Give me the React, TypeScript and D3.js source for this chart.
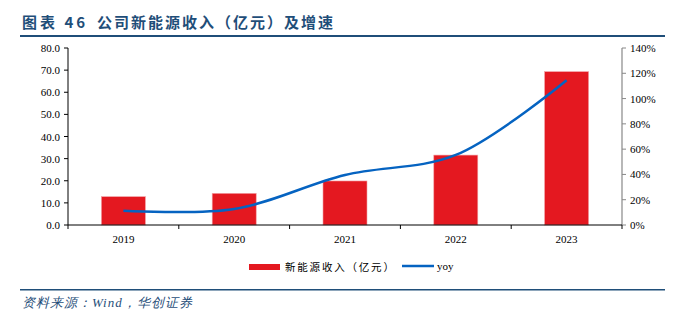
import React from "react";
import * as d3 from "d3";

const categories = ["2019", "2020", "2021", "2022", "2023"];
const revenue = [12.8, 14.3, 19.9, 31.6, 69.3];
const yoy = [11.3, 12.7, 39.6, 55.4, 114.5];
const leftTicks = [0, 10, 20, 30, 40, 50, 60, 70, 80];
const rightTicks = [0, 20, 40, 60, 80, 100, 120, 140];
const titleLabel = "图表 46";
const title = "公司新能源收入（亿元）及增速";
const source = "资料来源：Wind，华创证券";
const legendBar = "新能源收入（亿元）";
const legendLine = "yoy";

export default function App() {
  const W = 681, H = 322;
  const left = 68, right = 622, top = 48, bottom = 225;
  const xb = d3.scaleBand().domain(categories).range([left, right]);
  const yL = d3.scaleLinear().domain([0, 80]).range([bottom, top]);
  const yR = d3.scaleLinear().domain([0, 140]).range([bottom, top]);
  const line = d3
    .line<number>()
    .x((_, i) => (xb(categories[i]) as number) + xb.bandwidth() / 2)
    .y((d) => yR(d))
    .curve(d3.curveCatmullRom.alpha(0.5));
  const serif = "'Liberation Serif', 'Times New Roman', serif";
  const cjk = "'Noto Sans CJK SC', sans-serif";
  const boundaries = [...categories.map((c) => xb(c) as number), right];
  return (
    <svg width={W} height={H} style={{ position: "absolute", left: 0, top: 0 }}>
      <rect width={W} height={H} fill="#fff" />
      <text x={22} y={28} fontFamily={cjk} fontWeight="bold" fontSize={15} fill="#1F4E79" letterSpacing={3} style={{ whiteSpace: "pre" }}>
        {titleLabel}
      </text>
      <text x={97} y={28} fontFamily={cjk} fontWeight="bold" fontSize={15} fill="#1F4E79" letterSpacing={2}>
        {title}
      </text>
      <rect x={20} y={35} width={645} height={2} fill="#1F4E79" />
      {categories.map((c, i) => (
        <rect key={c} x={(xb(c) as number) + xb.bandwidth() / 2 - 22} y={yL(revenue[i])} width={44} height={bottom - yL(revenue[i])} fill="#E41820" stroke="#F2A0A4" strokeWidth={0.6} />
      ))}
      {/* left axis */}
      <line x1={left} x2={left} y1={top} y2={bottom} stroke="#000" />
      {leftTicks.map((t) => (
        <g key={t}>
          <line x1={left - 4} x2={left} y1={yL(t)} y2={yL(t)} stroke="#000" />
          <text x={left - 8} y={yL(t) + 4} textAnchor="end" fontFamily={serif} fontSize={11} fill="#000">
            {t.toFixed(1)}
          </text>
        </g>
      ))}
      {/* right axis */}
      <line x1={right} x2={right} y1={top} y2={bottom} stroke="#888" strokeWidth={1.2} />
      {rightTicks.map((t) => (
        <g key={t}>
          <line x1={right} x2={right + 4} y1={yR(t)} y2={yR(t)} stroke="#888" />
          <text x={right + 8} y={yR(t) + 4} textAnchor="start" fontFamily={serif} fontSize={11} fill="#000">
            {t}%
          </text>
        </g>
      ))}
      {/* x axis */}
      <line x1={left} x2={right} y1={bottom} y2={bottom} stroke="#000" />
      {boundaries.map((b, i) => (
        <line key={i} x1={b} x2={b} y1={bottom} y2={bottom + 4} stroke="#000" />
      ))}
      {categories.map((c) => (
        <text key={c} x={(xb(c) as number) + xb.bandwidth() / 2} y={243} textAnchor="middle" fontFamily={serif} fontSize={11} fill="#000">
          {c}
        </text>
      ))}
      <path d={line(yoy) || ""} fill="none" stroke="#0563C1" strokeWidth={2.5} />
      {/* legend */}
      <rect x={249} y={264} width={31} height={6} fill="#E41820" />
      <text x={285} y={271} fontFamily={cjk} fontSize={10.5} fill="#000" letterSpacing={1.8}>
        {legendBar}
      </text>
      <line x1={402} x2={434} y1={266} y2={266} stroke="#0563C1" strokeWidth={2.5} />
      <text x={437} y={270} fontFamily={serif} fontSize={11} fill="#000">
        {legendLine}
      </text>
      <rect x={20} y={289} width={645} height={1.5} fill="#1F4E79" />
      <text x={22} y={307} fontFamily={serif} fontStyle="italic" fontSize={13} fill="#1F4E79" letterSpacing={1}>
        {source}
      </text>
    </svg>
  );
}
